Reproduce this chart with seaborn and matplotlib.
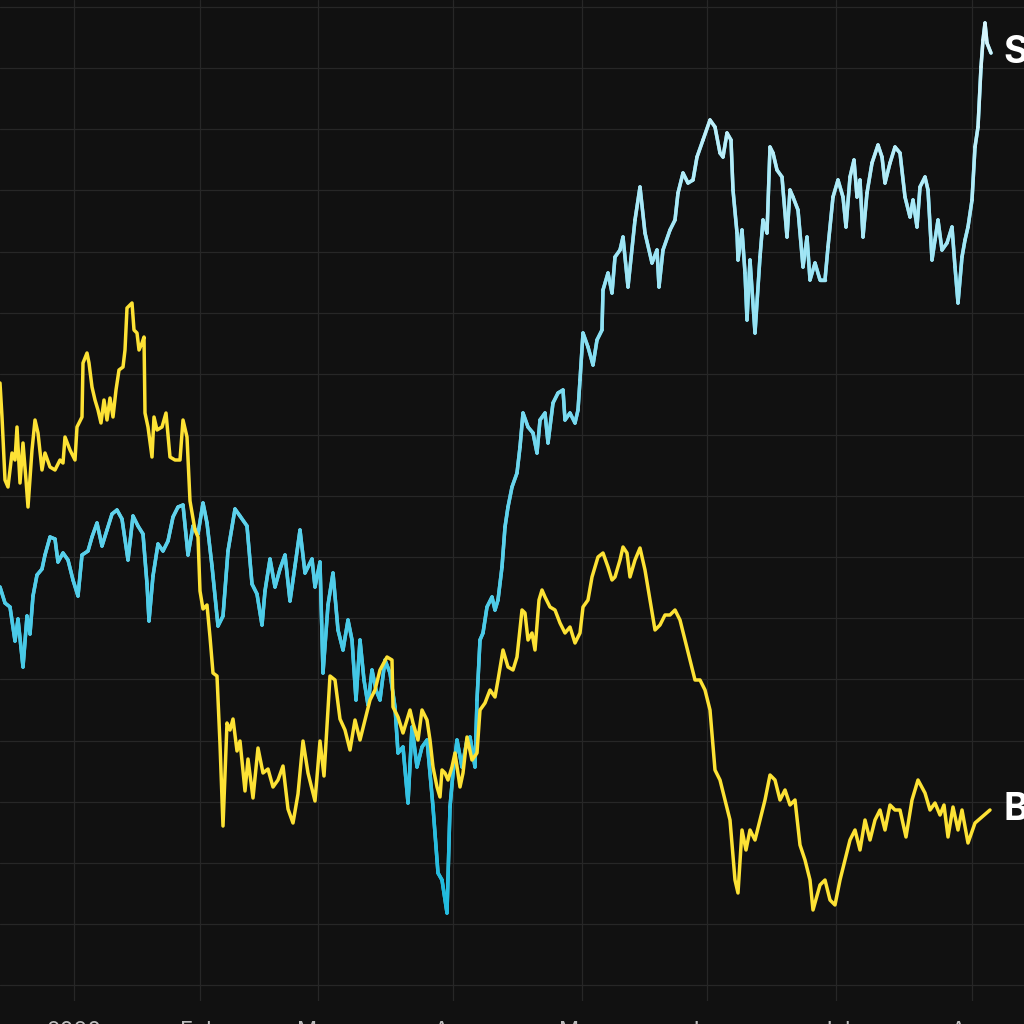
import numpy as np
import pandas as pd
import matplotlib
matplotlib.use("Agg")
import matplotlib.pyplot as plt
import seaborn as sns
from matplotlib.collections import LineCollection
from matplotlib.colors import LinearSegmentedColormap
from matplotlib.ticker import FixedLocator

# ---------------- data ----------------
# time in sessions, value in index points
s_t = [0, 1, 2, 3, 3.6, 4.6, 5.4, 6, 6.6, 7.4, 8.4, 9, 10, 11, 11.6, 12.6, 13.6, 14.6, 15.6, 16.4,
       17.6, 18.4, 19.4, 20.4, 21.4, 22.4, 23.4, 24.4, 25.6, 26.6, 27.6, 28.6, 29.4, 29.8, 30.6, 31.6,
       32.6, 33.6, 34.6, 35.6, 36.6, 37.6, 38.6, 39.6, 40.6, 41.4, 42.4, 43.6, 44.6, 45.6, 47, 48,
       49.4, 50.4, 51.4, 52.4, 53, 54, 55, 56, 57, 58, 59, 60, 61, 62.4, 63, 64, 64.6, 65.6, 66.6,
       67.6, 68.6, 69.6, 70.4, 71.2, 72, 72.8, 73.6, 74.4, 75.2, 76, 77, 78, 79, 79.6, 80.6, 81.6,
       82.4, 83.4, 84.4, 85.4, 86, 86.6, 87.6, 88.4, 89.4, 90, 90.6, 91.4, 92.4, 93.4, 94, 95, 95.4,
       96, 96.6, 97.4, 98.4, 99, 99.6, 100.4, 101, 101.6, 102.4, 103.4, 104, 104.6, 105.6, 106.6,
       107.4, 108, 109, 109.6, 110.6, 111.6, 112.6, 113, 114, 115, 115.6, 116, 116.6, 117.6, 118.6,
       119.4, 120.4, 120.6, 121.6, 122.4, 123, 124, 124.6, 125.6, 127, 128, 129, 130.4, 131.4, 131.8,
       132.6, 134, 135, 135.6, 136.6, 137.6, 138.6, 139.4, 140.6, 142, 143, 144, 144.6, 145.4, 146.2,
       146.6, 147.4, 147.6, 148.4, 149, 149.4, 150, 151, 152, 152.6, 153.4, 154, 154.6, 155.4, 156.4,
       157.4, 158, 158.6, 159.6, 160.6, 161.4, 162, 163, 164, 165, 165.6, 166.6, 167.6, 168.6, 169.2,
       170, 170.8, 171.4, 172, 172.6, 173.4, 174.4, 175.6, 176.4, 177, 178, 179, 180, 181, 182, 182.6,
       183.4, 184, 185, 185.6, 186.4, 187, 187.6, 188.4, 189.4, 190.4, 191, 191.6, 192.4, 193, 193.6,
       194.4, 195, 195.6, 196.2, 196.6, 197, 197.4, 198.2]
s_v = [413, 397, 393, 359, 381, 333, 384, 366, 404, 425, 431, 445, 463, 461, 438, 447, 440, 420, 404, 445,
       449, 463, 477, 454, 470, 486, 490, 481, 440, 484, 474, 466, 416, 379, 424, 456,
       449, 459, 483, 493, 495, 445, 474, 466, 497, 477, 434, 374, 384, 449, 491, 484,
       474, 416, 406, 375, 409, 441, 413, 431, 445, 399, 434, 470, 427, 441, 413, 438, 327, 395, 427,
       370, 350, 380, 360, 300, 360, 320, 295, 330, 310, 300, 340, 327, 293, 247, 253, 197,
       273, 233, 253, 260, 227, 193, 127, 120, 87, 193, 227, 260, 233, 260, 263, 233, 300,
       360, 367, 393, 403, 390, 400, 433, 473, 493, 513, 527, 553, 587, 573, 567,
       547, 580, 587, 557, 597, 607, 610, 580, 587, 577, 590, 620, 667, 653, 635,
       660, 670, 710, 727, 707, 743, 750, 763, 713, 780, 813, 767, 737, 750, 713,
       750, 770, 780, 807, 827, 817, 820, 843, 860, 880, 873, 847, 843, 867, 860,
       810, 767, 740, 770, 727, 680, 740, 667, 743, 780, 767, 853, 847, 830, 823,
       763, 810, 803, 790, 733, 763, 720, 737, 720, 720, 753, 803, 820, 803, 773,
       823, 840, 803, 820, 763, 807, 837, 855, 843, 817, 837, 853, 847, 803, 783, 800,
       773, 813, 823, 810, 740, 760, 780, 750, 757, 773, 733, 697, 743, 760, 773,
       800, 853, 873, 933, 960, 977, 957, 947]

b_t = [0, 0.4, 1, 1.6, 2.4, 3, 3.4, 4, 4.6, 5.2, 5.6, 6.4, 7, 7.6, 8.4, 9, 10, 11, 12, 12.6, 13, 14,
       15, 15.4, 16.4, 16.6, 17.4, 17.8, 18.4, 19, 19.6, 20.2, 20.8, 21.4, 22, 22.6, 23.2, 23.8, 24.6,
       25, 25.4, 26.4, 26.8, 27.4, 27.8, 28.4, 28.8, 29, 29.6, 30.4, 30.8, 31.4, 32.4, 33.2, 34, 35,
       36, 36.6, 37.4, 38, 39, 39.6, 40, 40.6, 41.4, 42, 42.6, 43.4, 44, 44.6, 45.4, 46, 46.6, 47.4,
       48, 49, 49.6, 50.6, 51.6, 52.6, 53.6, 54.6, 55.6, 56.6, 57.6, 58.6, 59.6, 60.6, 61.6, 63, 64,
       64.8, 66, 67, 68, 69, 70, 71, 72, 73, 74, 75, 76, 77.4, 78.4, 78.6, 79.6, 80.6, 82, 82.6, 83.6,
       84.4, 85.4, 86, 86.6, 87.4, 88, 88.4, 89, 89.6, 90.4, 91, 92, 92.6, 93.4, 94.4, 95.4, 96, 97,
       98, 99, 99.6, 100.6, 101.6, 102.6, 103.4, 104.4, 105, 105.6, 106.4, 107, 107.8, 108.4, 109,
       110, 111, 112, 113, 114, 115, 116, 116.6, 117.6, 118.4, 119, 119.6, 120.6, 121.6, 122.4, 123,
       124, 124.6, 125.4, 126, 127, 128, 129, 130, 131, 132, 133, 134, 135, 136, 137, 138, 139, 140,
       141, 142, 143, 144, 145, 146, 147, 147.6, 148.4, 149.2, 150, 151, 152, 153, 154, 155, 156, 157,
       158, 159, 160, 161, 162, 162.6, 164, 165, 166, 167, 168, 169, 170, 171, 172, 173, 174, 175, 176,
       177, 178, 179, 180, 181.2, 182.4, 183.6, 185, 186, 187, 188, 188.8, 189.6, 190.6, 191.6, 192.4,
       193.6, 195, 196.4, 198]
b_v = [617, 583, 520, 513, 547, 540, 573, 517, 557, 520, 493, 550, 580, 567, 530, 547, 533, 530, 540, 537, 563, 550,
       540, 573, 583, 637, 647, 637, 613, 600, 590, 577, 600, 580, 602, 583, 610, 630, 633,
       650, 692, 697, 670, 667, 650, 657, 663, 587, 573, 543, 583, 570, 573, 587, 543, 540,
       540, 580, 563, 499, 470, 463, 409, 391, 395, 363, 327, 324, 256, 174, 277, 270, 281, 249,
       259, 209, 241, 202, 252, 227, 231, 213, 220, 234, 191, 177, 206, 259, 227, 199, 259,
       224, 324, 320, 281, 270, 250, 280, 260, 280, 300, 310, 330, 343, 340, 293, 283, 267, 290, 277, 260,
       290, 280, 260, 233, 213, 203, 230, 227, 220, 233, 247, 213, 227, 263, 240, 247, 290, 297,
       310, 303, 320, 350, 333, 330, 343, 390, 387, 360, 367, 350, 400, 410, 403,
       393, 390, 377, 367, 373, 357, 367, 393, 400, 423, 433, 443, 447, 433, 420, 423,
       440, 453, 447, 423, 440, 452, 430, 400, 370, 375, 385, 385, 390, 380, 360, 340, 320, 320,
       310, 290, 230, 220, 200, 180, 120, 107, 170, 150, 170, 160, 180, 200, 225, 220, 200, 210,
       195, 200, 155, 140, 120, 90, 115, 120, 100, 95, 120, 140, 160, 170, 150, 180, 160, 180, 190,
       170, 195, 190, 190, 163, 200, 220, 207, 190, 197, 185, 195, 163, 193, 170, 190,
       157, 177, 183, 190]

month_pos = [14.8, 40.0, 63.5, 90.5, 116.4, 141.4, 167.1, 194.3]
month_labels = ["2020", "Feb", "Mar", "Apr", "May", "Jun", "Jul", "Aug"]
grid_levels = [15.0, 76.1, 137.3, 198.4, 259.5, 320.6, 381.8, 442.9, 504.0,
               565.1, 626.3, 687.4, 748.5, 809.6, 870.8, 931.9, 993.0]
series_names = ["S", "B"]

# ---------------- style ----------------
BG = "#111111"
sns.set_theme(style="dark")
plt.rcParams.update({
    "figure.facecolor": BG,
    "axes.facecolor": BG,
    "savefig.facecolor": BG,
    "grid.color": "#272727",
})
plt.rcParams["font.family"] = ["Inter", "DejaVu Sans"]

LW = 2.5
fig = plt.figure(figsize=(10.24, 10.24), dpi=100)
ax = fig.add_axes([0.0, 23 / 1024, 1.0, 1001 / 1024])

df_s = pd.DataFrame({"t": s_t, "v": s_v})
df_b = pd.DataFrame({"t": b_t, "v": b_v})

# cyan series (base line + value-graded overlay)
sns.lineplot(data=df_s, x="t", y="v", ax=ax, color="#58cfea", linewidth=LW,
             estimator=None, sort=False)
pts = np.column_stack([np.asarray(s_t, float), np.asarray(s_v, float)])
segs = np.stack([pts[:-1], pts[1:]], axis=1)
cmap = LinearSegmentedColormap.from_list(
    "cy", [(0.0, "#1cb9de"), (0.4, "#56cfea"), (1.0, "#d8f6fc")])
lc = LineCollection(segs, cmap=cmap, norm=plt.Normalize(min(s_v), max(s_v)),
                    linewidths=LW, capstyle="round", joinstyle="round", zorder=3)
lc.set_array((pts[:-1, 1] + pts[1:, 1]) / 2)
ax.add_collection(lc)

# yellow series
sns.lineplot(data=df_b, x="t", y="v", ax=ax, color="#fde235", linewidth=LW,
             estimator=None, sort=False, zorder=4)

# end labels
ax.text(s_t[-1] + 2.4, s_v[-1], series_names[0], color="white", fontsize=27,
        fontweight="bold", ha="left", va="center", zorder=5)
ax.text(b_t[-1] + 2.8, b_v[-1], series_names[1], color="white", fontsize=27,
        fontweight="bold", ha="left", va="center", zorder=5)

# axes
ax.set_xlim(0, 204.8)
ax.set_ylim(-1, 1000)
ax.xaxis.set_major_locator(FixedLocator(month_pos))
ax.set_xticklabels(month_labels)
ax.yaxis.set_major_locator(FixedLocator(grid_levels))
ax.grid(True, color="#272727", linewidth=0.9)
ax.tick_params(axis="x", length=0, pad=14.5, labelsize=16, labelcolor="#bdbdbd")
ax.tick_params(axis="y", left=False, labelleft=False, length=0)
for sp in ax.spines.values():
    sp.set_visible(False)
ax.set_xlabel("")
ax.set_ylabel("")

fig.savefig("out.png", dpi=100, facecolor=BG)
